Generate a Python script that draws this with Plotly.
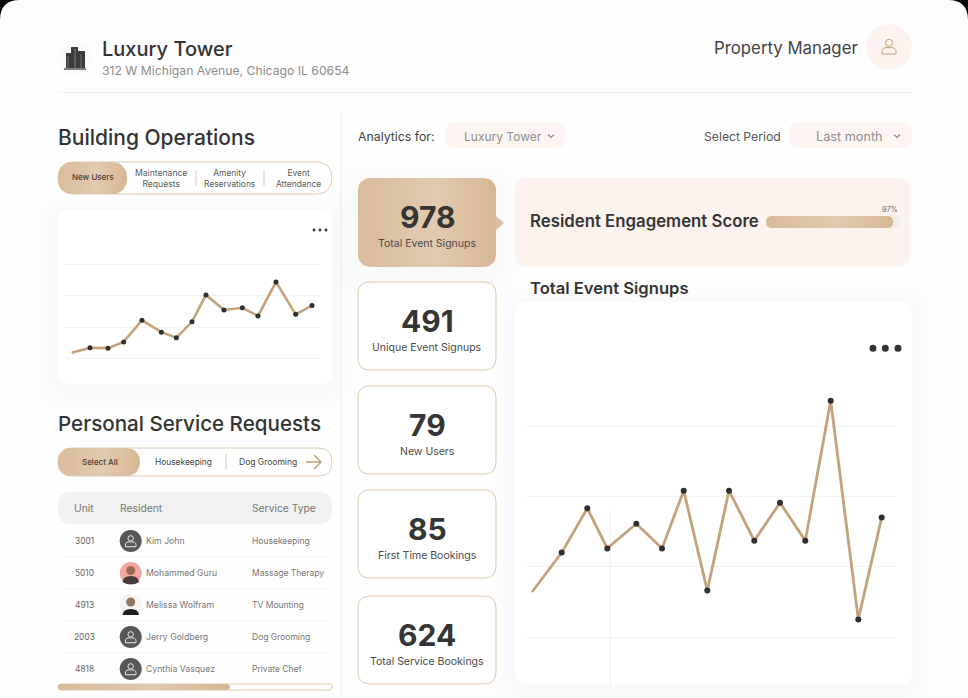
import numpy as np
import plotly.graph_objects as go

FONT = "Inter"
DARK = "#353535"
TAN = "#C4A27B"
TAN_SOFT = "#DCC9B0"
PEACH = "#FCF3EE"
GOLD_SCALE = [[0, "#D8BB9A"], [0.55, "#E2CAAE"], [1, "#D6B794"]]

# small chart (New Users)
small_x = [0, 18.3, 36.3, 52, 70.3, 89.7, 104.7, 120.3, 134.3, 152.3, 170.7, 186.3, 204.3, 224, 240.3]
small_y = [18, 34, 33, 53, 122, 84, 66, 117, 203, 155, 162, 136, 244, 141, 169]
small_ticks = [0, 100, 200, 300]

# big chart (Total Event Signups)
big_x = [0, 29.7, 55.3, 75.3, 104.3, 130, 151.7, 175.3, 197, 222.3, 248, 273.3, 298.7, 326.3, 349.7]
big_y = [64, 120, 183, 126, 161, 126, 208, 66, 208, 137, 191, 137, 336, 25, 170]
big_ticks = [0, 100, 200, 300]

stat_values = ["978", "491", "79", "85", "624"]
stat_labels = ["Total Event Signups", "Unique Event Signups", "New Users", "First Time Bookings", "Total Service Bookings"]

table_units = ["3001", "5010", "4913", "2003", "4818"]
table_residents = ["Kim John", "Mohammed Guru", "Melissa Wolfram", "Jerry Goldberg", "Cynthia Vasquez"]
table_services = ["Housekeeping", "Massage Therapy", "TV Mounting", "Dog Grooming", "Private Chef"]

engagement_score = [97]

fig = go.Figure()
shapes = []
notes = []


def text(x, y, s, size, color=DARK, weight=400, anchor="left"):
    shift = {"left": -2, "right": 2, "center": 0}[anchor]
    notes.append(dict(x=x, y=y, xref="x", yref="y", xshift=shift, text=s, showarrow=False, xanchor=anchor,
                      yanchor="middle", align="center",
                      font=dict(family=FONT, size=size, color=color, weight=weight)))


def rr_path(x0, y0, x1, y1, r):
    return (f"M{x0+r},{y0} L{x1-r},{y0} Q{x1},{y0} {x1},{y0+r} L{x1},{y1-r} Q{x1},{y1} {x1-r},{y1} "
            f"L{x0+r},{y1} Q{x0},{y1} {x0},{y1-r} L{x0},{y0+r} Q{x0},{y0} {x0+r},{y0} Z")


def box(x0, y0, x1, y1, r, fill="white", line=None, width=1):
    shapes.append(dict(type="path", path=rr_path(x0, y0, x1, y1, r), xref="x", yref="y", layer="below",
                       fillcolor=fill, line=dict(color=line or "rgba(0,0,0,0)", width=width if line else 0)))


def shadow(x0, y0, x1, y1, r):
    for grow in [26, 20, 14, 9, 5]:
        box(x0 - grow, y0 - grow + 6, x1 + grow, y1 + grow + 6, r + grow, fill="rgba(90,80,70,0.006)")


def circle(cx, cy, r, fill, line=None, width=1):
    shapes.append(dict(type="circle", x0=cx - r, x1=cx + r, y0=cy - r, y1=cy + r, xref="x", yref="y", layer="below",
                       fillcolor=fill, line=dict(color=line or "rgba(0,0,0,0)", width=width if line else 0)))


def seg(x0, y0, x1, y1, color, width=1):
    shapes.append(dict(type="line", x0=x0, x1=x1, y0=y0, y1=y1, xref="x", yref="y", layer="below",
                       line=dict(color=color, width=width)))


def path(d, fill="rgba(0,0,0,0)", color="rgba(0,0,0,0)", width=0):
    shapes.append(dict(type="path", path=d, xref="x", yref="y", layer="below", fillcolor=fill,
                       line=dict(color=color, width=width)))


def gradient_box(x0, y0, x1, y1, rx, ry=None, xa="x", ya="y"):
    # rounded polygon so the fill can carry a gradient
    ry = rx if ry is None else ry
    xs, ys = [], []
    t = np.linspace(0, np.pi / 2, 8)
    # yaxis of the page runs downwards, the score bar's runs upwards; the polygon closes either way
    corners = [(x1 - rx, y0 + ry, -np.pi / 2), (x1 - rx, y1 - ry, 0), (x0 + rx, y1 - ry, np.pi / 2), (x0 + rx, y0 + ry, np.pi)]
    for cx, cy, start in corners:
        xs += list(cx + rx * np.cos(start + t))
        ys += list(cy + ry * np.sin(start + t))
    fig.add_trace(go.Scatter(x=xs + xs[:1], y=ys + ys[:1], mode="lines", fill="toself", line=dict(width=0),
                             fillgradient=dict(type="horizontal", colorscale=GOLD_SCALE),
                             hoverinfo="skip", showlegend=False, xaxis=xa, yaxis=ya))


def person(cx, cy, s, color, width=1):
    # outlined head and shoulders
    circle(cx, cy - 4.2 * s, 3.6 * s, "rgba(0,0,0,0)", color, width)
    path(f"M{cx-7*s},{cy+7*s} Q{cx-8*s},{cy+1*s} {cx-3*s},{cy+0.6*s} L{cx+3*s},{cy+0.6*s} "
         f"Q{cx+8*s},{cy+1*s} {cx+7*s},{cy+7*s} Z", color=color, width=width)


def chevron(cx, cy, color="#888888"):
    path(f"M{cx-3},{cy-1.5} L{cx},{cy+1.5} L{cx+3},{cy-1.5}", color=color, width=1.1)


# page corners
path("M0,0 L20,0 Q0,0 0,20 Z", fill="#000000")
path("M968,0 L948,0 Q968,0 968,20 Z", fill="#000000")

# header
circle(75, 58, 18, "#FBFBFB")
for bx0, by0, bx1 in [(66, 53, 71), (71, 47, 78), (78, 51, 85)]:
    box(bx0, by0, bx1, 68, 0.5, fill="#3B3B3B")
seg(75, 49, 75, 68, "#9A9A9A", 0.8)
seg(68, 56, 68, 68, "#9A9A9A", 0.6)
seg(81, 54, 81, 68, "#9A9A9A", 0.6)
seg(64, 69, 86, 69, "#2E2E2E", 1.2)
text(102, 49, "Luxury Tower", 20, "#333333", 500)
text(102, 70, "312 W Michigan Avenue, Chicago IL 60654", 12.2, "#8C8C8C")
seg(58, 92.5, 912, 92.5, "#F1F1F1")
text(858, 48, "Property Manager", 16.8, "#444444", 400, "right")
circle(889, 47, 23, PEACH)
person(889, 47, 1.0, TAN, 1)
seg(341, 113, 341, 698, "#F3F3F3", 1.5)

# building operations
text(58, 137, "Building Operations", 21, "#333333", 500)
box(58, 162, 332, 194, 16, line=TAN_SOFT)
gradient_box(58, 162, 127, 194, 14)
text(92.5, 177, "New Users", 8, "#4A4036", 500, "center")
text(161, 178.5, "Maintenance<br>Requests", 8.6, "#5A5A5A", 400, "center")
text(229.5, 178.5, "Amenity<br>Reservations", 8.4, "#5A5A5A", 400, "center")
text(298, 178.5, "Event<br>Attendance", 8.4, "#5A5A5A", 400, "center")
seg(196, 170, 196, 186, TAN_SOFT)
seg(264, 170, 264, 186, TAN_SOFT)

shadow(58, 210, 332, 384, 12)
box(58, 210, 332, 384, 12)
for dx in [314, 320, 326]:
    circle(dx, 230, 1.4, "#333333")

# personal service requests
text(58, 423, "Personal Service Requests", 20.6, "#333333", 500)
box(58, 448, 332, 476, 14, line=TAN_SOFT)
gradient_box(58, 448, 140, 476, 13)
text(100, 462, "Select All", 8, "#4A4036", 500, "center")
text(183, 462, "Housekeeping", 8.4, "#444444", 400, "center")
text(268, 462, "Dog Grooming", 8.5, "#444444", 400, "center")
seg(226, 454, 226, 470, TAN_SOFT)
path("M306,462 L321,462 M314,455 L321,462 L314,469", color=TAN, width=1.5)

box(58, 492, 332, 524, 13, fill="#F1F1F1")
text(74, 508, "Unit", 10.3, "#777777")
text(120, 508, "Resident", 10.3, "#777777")
text(252, 508, "Service Type", 10.3, "#777777")
row_y = [541, 573, 605, 637, 669]
for i, ry in enumerate(row_y):
    text(84, ry, table_units[i], 8.4, "#666666", 400, "center")
    text(146, ry, table_residents[i], 8.7, "#777777")
    text(252, ry, table_services[i], 8.5, "#777777")
    if i < 4:
        seg(62, ry + 16, 332, ry + 16, "#F4F4F4")
    if i == 1:
        circle(130.7, ry, 11, "#F2A9A5")
        path(f"M122.5,{ry+9} Q123,{ry+3} 130.7,{ry+3} Q138.5,{ry+3} 139,{ry+9} Q131,{ry+14} 122.5,{ry+9} Z", fill="#4A3A3F")
        circle(130.7, ry - 2.5, 4.5, "#9C6B52")
    elif i == 2:
        circle(130.7, ry, 11, "#F6F4F2")
        path(f"M122.5,{ry+10} Q123,{ry+4} 130.7,{ry+4} Q138.5,{ry+4} 139,{ry+10} Z", fill="#1E1E1E")
        circle(130.7, ry - 3, 4.5, "#8F7460")
    else:
        circle(130.7, ry, 11, "#575757")
        person(130.7, ry + 0.5, 0.75, "#EDEDED", 1)
box(58, 684, 332, 690, 3, line=TAN_SOFT)
gradient_box(58, 684, 230, 690, 3)

# filters
text(358, 136, "Analytics for:", 12.3, "#444444")
box(445, 122, 565, 148, 10, fill="#FDF5F1")
text(464, 136, "Luxury Tower", 12, "#8F8F8F")
chevron(551, 136)
text(704, 136, "Select Period", 12.2, "#555555")
box(789, 122, 912, 148, 10, fill="#FDF5F1")
text(816, 136, "Last month", 12.7, "#8F8F8F")
chevron(897, 136)

# stat cards
card_tops = [178, 282, 386, 490, 596]
card_bottoms = [267, 370, 474, 578, 684]
for i, top in enumerate(card_tops):
    bottom = card_bottoms[i]
    if i == 0:
        shadow(358, top, 496, bottom, 12)
        gradient_box(358, top, 496, bottom, 12)
    else:
        box(358, top, 496, bottom, 12, line=TAN_SOFT)
    text(427, top + 39, stat_values[i], 30, "#353535", 700, "center")
    text(427, top + 65, stat_labels[i], 10.5, "#4A4A4A", 400, "center")
path("M496,216 L504,223 L496,230 Z", fill="#DCC3A5")

# engagement banner
box(515, 178, 910, 267, 12, fill=PEACH)
text(530, 220.5, "Resident Engagement Score", 16.8, "#353535", 600)
box(766, 216, 901, 228, 6, fill="#F3EDE8")
text(898, 209, f"{engagement_score[0]}%", 7.4, "#666666", 400, "right")

# big chart card
text(530, 288, "Total Event Signups", 16.6, "#353535", 600)
shadow(515, 302, 912, 684, 12)
box(515, 302, 912, 684, 12)
for dx in [873, 885.3, 898]:
    circle(dx, 348.3, 3.5, "#333333")
seg(610.3, 510, 610.3, 685, "#F1F1F1")


def line_chart(x, y, xa, ya, line_width, dot):
    fig.add_trace(go.Scatter(x=x, y=y, mode="lines", line=dict(color=TAN, width=line_width), xaxis=xa, yaxis=ya,
                             hoverinfo="skip", showlegend=False))
    fig.add_trace(go.Scatter(x=x[1:], y=y[1:], mode="markers", marker=dict(color="#2F2F2F", size=dot), xaxis=xa, yaxis=ya,
                             hoverinfo="skip", showlegend=False))


line_chart(small_x, small_y, "x2", "y2", 2.6, 5)
line_chart(big_x, big_y, "x3", "y3", 2.8, 6)

# score bar, drawn on its own 0-103 axis
gradient_box(0, 0, engagement_score[0], 1, 3.8, 0.42, "x4", "y4")

hidden = dict(showticklabels=False, ticks="", showline=False, zeroline=False, showgrid=False, fixedrange=True)
fig.update_layout(
    width=968, height=698, margin=dict(l=0, r=0, t=0, b=0, pad=0),
    paper_bgcolor="#FEFEFE", plot_bgcolor="rgba(0,0,0,0)",
    hovermode=False, showlegend=False, shapes=shapes, annotations=notes,
    xaxis=dict(hidden, domain=[0, 1], range=[0, 968]),
    yaxis=dict(hidden, domain=[0, 1], range=[698, 0]),
    xaxis2=dict(hidden, domain=[64 / 968, 320 / 968], range=[-7.67, 248.33], anchor="y2"),
    yaxis2=dict(hidden, domain=[1 - 370 / 698, 1 - 250 / 698], range=[-36.7, 346.3], anchor="x2",
                showgrid=True, gridcolor="#F2F2F2", gridwidth=1, tickvals=small_ticks),
    xaxis3=dict(hidden, domain=[526 / 968, 896 / 968], range=[-6, 364], anchor="y3"),
    yaxis3=dict(hidden, domain=[1 - 660 / 698, 1 - 380 / 698], range=[-32.7, 365.4], anchor="x3",
                showgrid=True, gridcolor="#F2F2F2", gridwidth=1, tickvals=big_ticks),
    xaxis4=dict(hidden, domain=[766 / 968, 901 / 968], range=[0, 103], anchor="y4"),
    yaxis4=dict(hidden, domain=[1 - 228 / 698, 1 - 216 / 698], range=[0, 1], anchor="x4"),
)

fig.write_html("out.html", config=dict(displayModeBar=False),
               post_script="document.body.style.margin='0';document.body.style.overflow='hidden';")
